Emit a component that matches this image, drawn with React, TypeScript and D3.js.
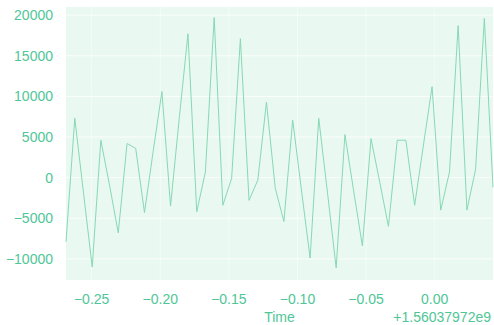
import React from 'react';
import * as d3 from 'd3';

// time offsets (s) relative to the 1.56037972e9 epoch offset
const times = [
  -0.2687, -0.2623, -0.2560, -0.2496, -0.2433, -0.2369, -0.2306, -0.2242, -0.2179, -0.2115,
  -0.2052, -0.1988, -0.1925, -0.1861, -0.1798, -0.1734, -0.1671, -0.1607, -0.1544, -0.1480,
  -0.1416, -0.1353, -0.1289, -0.1226, -0.1162, -0.1099, -0.1035, -0.0972, -0.0908, -0.0845,
  -0.0781, -0.0718, -0.0654, -0.0591, -0.0527, -0.0464, -0.0400, -0.0337, -0.0273, -0.0210,
  -0.0146, -0.0083, -0.0019, 0.0044, 0.0108, 0.0171, 0.0235, 0.0298, 0.0362, 0.0425,
];

const values = [
  -7900, 7300, -1800, -11000, 4600, -1000, -6800, 4200, 3600, -4300,
  3200, 10600, -3500, 7400, 17700, -4200, 700, 19700, -3400, -100,
  17100, -2800, -300, 9300, -1300, -5400, 7100, -1400, -9900, 7300,
  -1900, -11100, 5300, -1600, -8400, 4800, -600, -6000, 4600, 4600,
  -3400, 3900, 11200, -4000, 700, 18700, -4000, 1000, 19600, -1200,
];

const xTicks = [-0.25, -0.2, -0.15, -0.1, -0.05, 0.0];
const xTickLabels = ['−0.25', '−0.20', '−0.15', '−0.10', '−0.05', '0.00'];
const yTicks = [-10000, -5000, 0, 5000, 10000, 15000, 20000];
const yTickLabels = ['−10000', '−5000', '0', '5000', '10000', '15000', '20000'];
const offsetLabel = '+1.56037972e9';
const xLabel = 'Time';

const W = 494;
const H = 325;
const left = 66;
const right = 493;
const top = 7;
const bottom = 280;

const textColor = '#4fc697';
const lineColor = '#86d9b5';
const bgColor = '#e9f8f1';
const font = '"Liberation Sans", Arial, sans-serif';

export default function App() {
  const x = d3.scaleLinear()
    .domain(d3.extent(times) as [number, number])
    .range([left, right]);
  const y = d3.scaleLinear()
    .domain([-12600, 21000])
    .range([bottom, top]);

  const line = d3.line<number>()
    .x((_, i) => x(times[i]))
    .y(d => y(d));

  return (
    <svg width={W} height={H} style={{ position: 'absolute', left: 0, top: 0, background: '#ffffff' }}>
      <rect x={left} y={top} width={right - left} height={bottom - top} fill={bgColor} />
      {yTicks.map(t => (
        <line key={'gy' + t} x1={left} x2={right} y1={y(t)} y2={y(t)} stroke="#ffffff" strokeOpacity={0.8} strokeWidth={1} />
      ))}
      {xTicks.map(t => (
        <line key={'gx' + t} x1={x(t)} x2={x(t)} y1={top} y2={bottom} stroke="#ffffff" strokeOpacity={0.5} strokeWidth={1} />
      ))}
      <path d={line(values) ?? ''} fill="none" stroke={lineColor} strokeWidth={1} strokeLinejoin="round" />
      <g fontFamily={font} fontSize={14} fill={textColor}>
        {yTicks.map((t, i) => (
          <text key={'ty' + t} x={53} y={y(t)} dy="0.35em" textAnchor="end">{yTickLabels[i]}</text>
        ))}
        {xTicks.map((t, i) => (
          <text key={'tx' + t} x={x(t)} y={304} textAnchor="middle">{xTickLabels[i]}</text>
        ))}
        <text x={(left + right) / 2} y={322} textAnchor="middle">{xLabel}</text>
        <text x={491} y={322} textAnchor="end">{offsetLabel}</text>
      </g>
    </svg>
  );
}
